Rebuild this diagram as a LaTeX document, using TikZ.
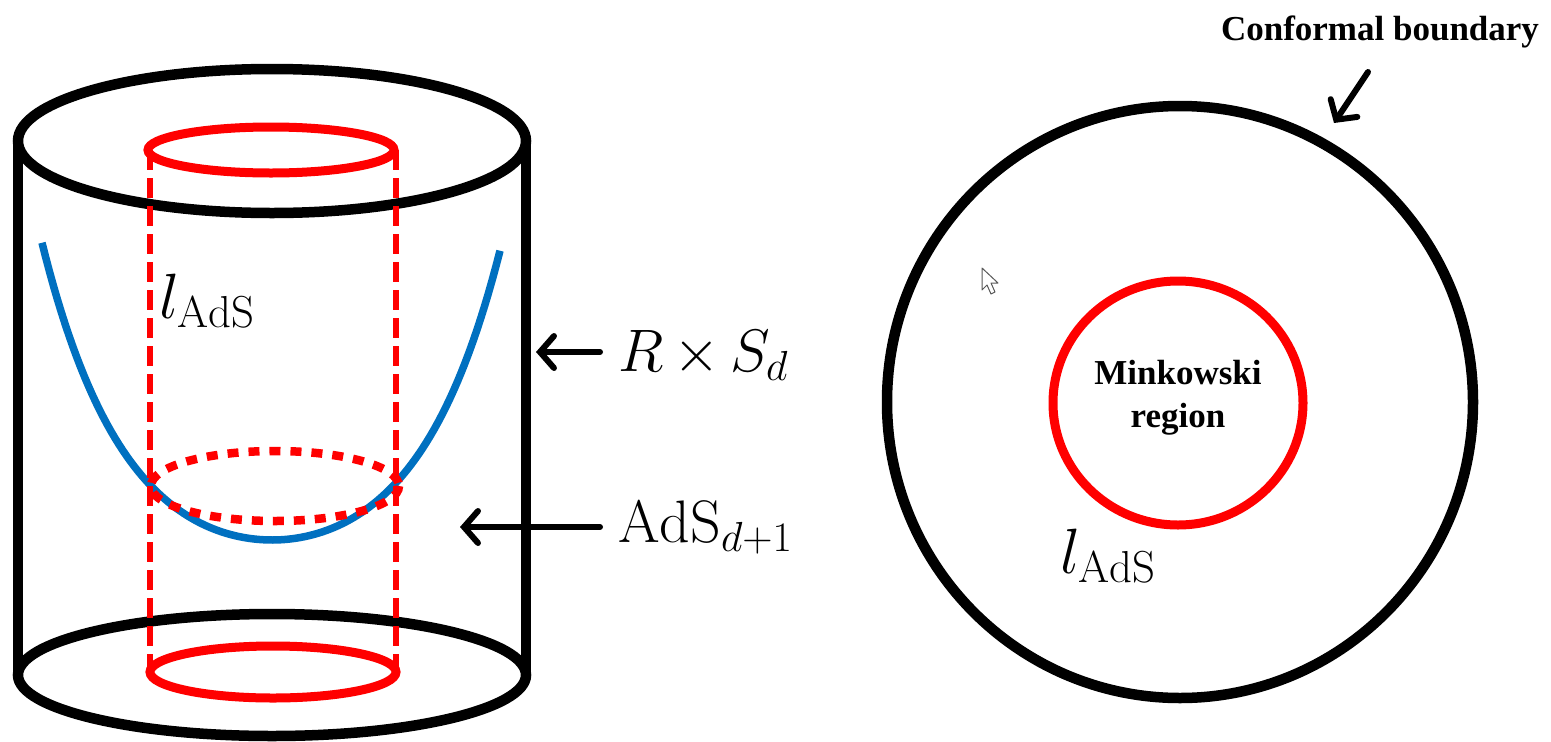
\RequirePackage{fix-cm}
\documentclass[tikz,border=0pt]{standalone}
\usepackage{fontspec}
\newfontfamily\gar{Liberation Serif}
\usetikzlibrary{arrows.meta}
\definecolor{adsblue}{RGB}{0,112,192}
\begin{document}
\begin{tikzpicture}[x=1pt,y=-1pt,
  blk/.style={line width=10.5pt, black},
  redl/.style={line width=9pt, red},
  reddash/.style={line width=5.5pt, red, dash pattern=on 20pt off 8pt},
  reddot/.style={line width=8.5pt, red, dash pattern=on 11pt off 10pt},
  bluel/.style={line width=7.5pt, adsblue},
  ptr/.style={line width=6pt, line cap=round, -{Straight Barb[length=14pt,width=32pt,line cap=round]}},
  mlbl/.style={font=\fontsize{60}{62}\selectfont, inner sep=0pt},
  llbl/.style={font=\fontsize{64}{66}\selectfont, inner sep=0pt},
  boldlbl/.style={font=\gar\bfseries\fontsize{35}{43}\selectfont, inner sep=0pt, align=center}]
\useasboundingbox (0,0) rectangle (1551,742);
\fill[white] (0,0) rectangle (1551,742);
% ---- left: cylinder ----
\draw[blk] (272,141) ellipse [x radius=254, y radius=72];
\draw[blk] (272,675) ellipse [x radius=254, y radius=61];
\draw[blk] (18,141) -- (18,675);
\draw[blk] (526,141) -- (526,675);
% blue curve
\draw[bluel] plot[domain=-230:228, samples=120] ({272+\x},{540-44*(cosh(0.0119*\x)-1)});
% red inner cylinder
\draw[redl] (271,150) ellipse [x radius=123, y radius=23];
\draw[redl] (273,672) ellipse [x radius=123, y radius=26];
\draw[reddash] (150,150) -- (150,672);
\draw[reddash] (396,150) -- (396,672);
\draw[reddot] (275,486) ellipse [x radius=124, y radius=35];
% labels
\node[llbl] (lads1) at (207,301) {$l_{\mathrm{AdS}}$};
\node[mlbl, anchor=west] (rs) at (618,355) {\medmuskip=3mu $R\times S_d$};
\node[mlbl, anchor=west] (ads) at (618,527) {$\mathrm{AdS}_{d+1}$};
\coordinate (rsTail) at (600,352);
\coordinate (rsTip) at (536,352);
\coordinate (adsTail) at (600,527);
\coordinate (adsTip) at (460,527);
\draw[ptr] (rsTail) -- (rsTip);
\draw[ptr] (adsTail) -- (adsTip);
% ---- right: disc ----
\draw[blk] (1180,402) ellipse [x radius=293, y radius=296];
\draw[redl] (1178,403) ellipse [x radius=125, y radius=122];
\node[boldlbl] (mink) at (1178,398) {Minkowski\\region};
\node[llbl] (lads2) at (1108,556) {$l_{\mathrm{AdS}}$};
\node[boldlbl] (cb) at (1380,32) {Conformal boundary};
\coordinate (cbTail) at (1368,72);
\coordinate (cbTip) at (1334,123);
\draw[ptr] (cbTail) -- (cbTip);
% mouse pointer
\draw[line width=1pt, gray!70!black, fill=white, line join=round]
  (982,268) -- (982,290) -- (987,285) -- (991,294) -- (995,292) -- (991,283) -- (998,283) -- cycle;
\end{tikzpicture}
\end{document}
